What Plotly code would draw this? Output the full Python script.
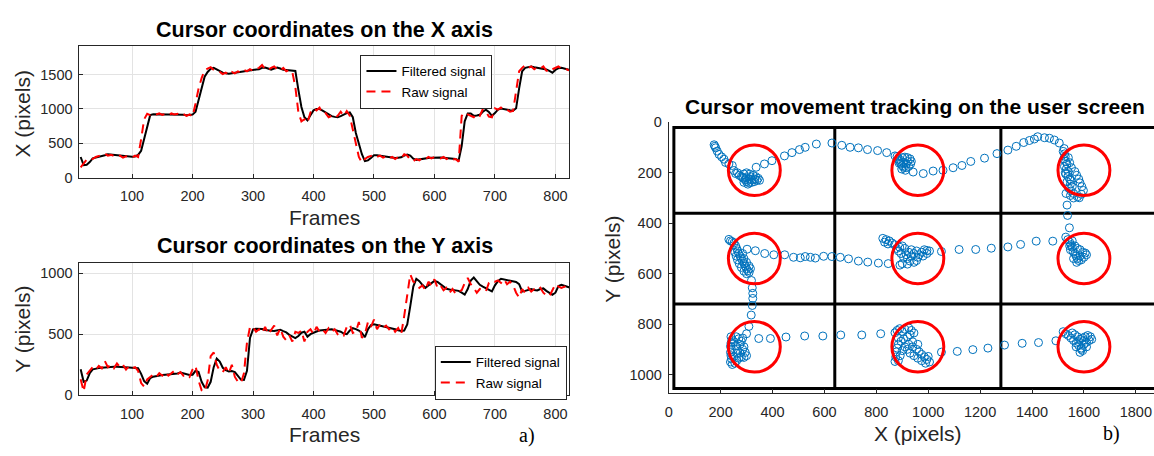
import plotly.graph_objects as go

# ---------------- data: time series (frames every 5) ----------------
frames = list(range(15, 826, 5))

x_filtered = [
    300, 180, 185, 225, 280, 290, 295, 310, 325, 340,
    335, 328, 320, 314, 310, 305, 302, 303, 307, 330,
    390, 575, 760, 910, 922, 922, 920, 922, 925, 922,
    920, 925, 922, 918, 915, 910, 912, 918, 960, 1130,
    1340, 1470, 1540, 1585, 1600, 1575, 1550, 1530, 1520, 1514,
    1520, 1528, 1530, 1540, 1550, 1560, 1568, 1572, 1575, 1580,
    1600, 1605, 1590, 1575, 1590, 1605, 1590, 1572, 1570, 1565,
    1565, 1555, 1280, 1030, 880, 835, 910, 980, 1000, 1000,
    975, 950, 920, 895, 885, 880, 895, 920, 940, 950,
    880, 650, 480, 340, 240, 250, 285, 325, 325, 318,
    312, 305, 300, 292, 285, 290, 295, 320, 335, 320,
    275, 258, 262, 270, 280, 285, 290, 293, 293, 292,
    290, 286, 282, 278, 270, 250, 460, 820, 935, 935,
    900, 905, 915, 960, 990, 955, 900, 940, 990, 1007,
    995, 988, 982, 975, 1010, 1300, 1550, 1600, 1615, 1620,
    1610, 1600, 1600, 1590, 1575, 1555, 1530, 1570, 1595, 1600,
    1590, 1575, 1565,
]

x_raw = [
    150, 200, 260, 280, 270, 300, 310, 330, 350, 320,
    330, 310, 300, 320, 290, 310, 300, 290, 320, 300,
    560, 850, 930, 910, 930, 920, 935, 915, 930, 910,
    935, 920, 930, 905, 925, 900, 920, 890, 1080, 1300,
    1450, 1560, 1590, 1610, 1570, 1560, 1540, 1510, 1530, 1500,
    1540, 1520, 1550, 1530, 1570, 1550, 1580, 1560, 1590, 1600,
    1640, 1580, 1570, 1600, 1620, 1580, 1560, 1600, 1550, 1570,
    1540, 1320, 950, 820, 850, 800, 950, 1010, 980, 1020,
    930, 940, 880, 900, 870, 900, 960, 900, 970, 900,
    700, 480, 300, 220, 270, 300, 310, 330, 300, 320,
    290, 310, 280, 300, 270, 300, 280, 340, 320, 260,
    240, 270, 250, 290, 270, 300, 280, 300, 290, 280,
    300, 270, 290, 260, 270, 230, 900, 950, 920, 900,
    880, 930, 900, 1000, 960, 890, 880, 1010, 990, 1020,
    980, 990, 960, 970, 1250, 1550, 1600, 1640, 1600, 1620,
    1580, 1610, 1590, 1620, 1560, 1540, 1580, 1600, 1620, 1590,
    1600, 1570, 1560,
]

y_filtered = [
    213, 110, 120, 180, 212, 220, 222, 225, 228, 232,
    234, 234, 234, 234, 232, 230, 228, 226, 225, 222,
    175, 115, 95, 140, 152, 158, 162, 166, 168, 170,
    172, 173, 178, 185, 178, 168, 165, 168, 200, 190,
    110, 65, 62, 110, 230, 300, 275, 225, 205, 194,
    198, 190, 160, 128, 125, 200, 470, 540, 545, 545,
    542, 535, 530, 528, 527, 530, 537, 525, 515, 495,
    478, 468, 485, 512, 520, 480, 500, 514, 522, 530,
    532, 536, 540, 541, 535, 528, 520, 505, 500, 530,
    549, 542, 530, 510, 475, 540, 575, 581, 576, 568,
    565, 560, 555, 548, 540, 532, 527, 530, 580, 730,
    890, 954, 935, 905, 880, 900, 920, 937, 928, 910,
    888, 872, 866, 862, 858, 855, 840, 824, 870, 940,
    964, 930, 905, 890, 878, 865, 850, 900, 935, 954,
    950, 946, 940, 935, 928, 910, 850, 855, 865, 870,
    862, 858, 870, 875, 855, 835, 822, 840, 895, 905,
    895, 885, 880,
]

y_raw = [
    130, 30, 170, 200, 230, 210, 240, 220, 280, 230,
    250, 220, 260, 230, 250, 210, 240, 220, 230, 200,
    100, 70, 130, 150, 170, 150, 180, 160, 190, 160,
    180, 200, 170, 190, 160, 170, 150, 210, 240, 120,
    40, 30, 120, 320, 350, 250, 200, 190, 230, 180,
    250, 150, 110, 100, 180, 430, 560, 560, 520, 540,
    510, 560, 500, 540, 570, 490, 550, 480, 450, 490,
    440, 520, 510, 530, 440, 520, 540, 500, 560, 520,
    540, 510, 550, 520, 540, 500, 510, 490, 560, 580,
    510, 520, 600, 470, 500, 600, 560, 620, 540, 580,
    550, 570, 540, 560, 520, 550, 500, 650, 820, 990,
    930, 920, 880, 900, 860, 930, 900, 950, 880, 900,
    860, 880, 840, 870, 830, 850, 860, 920, 960, 910,
    880, 840, 870, 860, 850, 920, 940, 930, 940, 920,
    950, 910, 930, 900, 840, 800, 870, 840, 880, 850,
    870, 860, 880, 840, 820, 810, 860, 910, 890, 880,
    890, 870, 880,
]

frame_ticks = [100, 200, 300, 400, 500, 600, 700, 800]
x_ticks_left = [0, 500, 1000, 1500]
y_ticks_left = [0, 500, 1000]

# ---------------- data: cursor track on screen ----------------
track_x = [
    175, 178, 181, 187, 194, 204, 213, 219, 232, 245, 251, 258,
    265, 272, 280, 288, 295, 300, 310, 320, 330, 340, 345, 335, 325, 312, 300, 290, 285, 298, 310, 320, 332, 305, 290, 315, 350,
    337, 369, 398, 446, 475, 504, 526, 569, 629, 667, 699, 731, 766, 805, 840, 872,
    880, 885, 890, 895, 900, 905, 915, 925, 932, 935, 930, 920, 910, 900, 893, 905, 915, 920, 888, 898, 912,
    942, 981, 1019, 1057, 1096, 1130, 1164, 1217, 1265, 1307, 1339, 1368, 1390, 1409, 1422, 1448, 1467, 1486, 1505, 1524,
    1520, 1525, 1528, 1522, 1530, 1535, 1525, 1532, 1540, 1530, 1538, 1545, 1535, 1548, 1555, 1542, 1550, 1560, 1548, 1540, 1545, 1552, 1565, 1572, 1580, 1585, 1592, 1598, 1590, 1582, 1575, 1560, 1528, 1550,
    1531, 1535, 1537, 1544,
    1530, 1538, 1545, 1550, 1555, 1548, 1558, 1565, 1570, 1575, 1580, 1590, 1600, 1610, 1605, 1595, 1585, 1575, 1565, 1560, 1572, 1585, 1545, 1555,
    1480, 1416, 1356, 1307, 1243, 1183, 1119, 1051,
    1005, 995, 985, 975, 965, 955, 945, 935, 925, 915, 905, 895, 885, 878, 890, 900, 910, 920, 930, 945, 955, 935, 960, 980, 995, 870, 860, 850, 838, 825, 832, 845, 900, 920,
    891, 846, 808, 767, 731, 693, 661, 629, 597, 565, 546, 526, 507, 481, 447, 405, 370, 334, 302,
    232, 238, 245, 252, 258, 262, 266, 270, 275, 280, 285, 290, 295, 300, 305, 310, 300, 290, 280, 272, 265, 260, 255, 290, 300, 310, 315, 285,
    319, 322, 324, 324, 322, 318, 309, 300,
    240, 245, 240, 238, 242, 238, 240, 242, 238, 245, 255, 262, 270, 280, 290, 300, 295, 285, 290, 275, 280, 270, 260, 252, 258, 265, 262, 275, 250, 285,
    347, 392, 452, 524, 594, 663, 744, 817, 872,
    880, 890, 900, 910, 925, 935, 945, 930, 920, 905, 895, 885, 880, 878, 875, 872, 885, 892, 900, 910, 925, 940, 955, 965, 975, 985, 995, 1005, 990, 975, 960, 945, 930, 920, 1000, 960, 940, 885,
    1051, 1112, 1172, 1230, 1294, 1362, 1425, 1492,
    1520, 1530, 1540, 1550, 1560, 1570, 1580, 1590, 1595, 1585, 1600, 1610, 1620, 1630, 1625, 1615, 1605, 1595, 1585, 1575, 1565, 1555, 1600, 1580, 1590, 1610, 1570,
]
track_y = [
    89, 95, 101, 114, 127, 137, 146, 159, 165, 171, 191, 203,
    200, 210, 215, 222, 228, 235, 240, 238, 235, 230, 222, 215, 210, 205, 200, 205, 218, 220, 225, 228, 225, 245, 238, 215, 230,
    178, 165, 152, 133, 120, 108, 99, 86, 82, 91, 99, 101, 108, 112, 120, 133,
    135, 145, 155, 165, 172, 178, 180, 175, 165, 155, 145, 140, 138, 140, 150, 160, 165, 155, 162, 185, 190,
    197, 203, 193, 190, 180, 171, 155, 142, 124, 110, 95, 80, 72, 66, 57, 61, 63, 70, 82, 104,
    115, 125, 135, 145, 155, 165, 175, 185, 195, 205, 215, 225, 235, 245, 255, 262, 272, 282, 290, 140, 160, 180, 195, 210, 225, 240, 255, 270, 285, 299, 295, 300, 200, 230,
    282, 328, 369, 418,
    455, 465, 475, 485, 495, 505, 512, 520, 530, 540, 548, 545, 535, 525, 518, 515, 505, 500, 490, 540, 555, 530, 490, 470,
    471, 471, 484, 494, 499, 504, 504, 512,
    510, 520, 505, 515, 525, 510, 520, 505, 515, 525, 535, 520, 510, 500, 495, 490, 500, 540, 550, 555, 548, 530, 535, 530, 508, 485, 478, 470, 465, 460, 475, 482, 560, 562,
    566, 560, 558, 554, 550, 541, 535, 532, 531, 538, 535, 532, 537, 535, 525, 525, 520, 509, 503,
    464, 470, 473, 478, 490, 500, 510, 520, 530, 540, 550, 560, 570, 580, 588, 595, 600, 590, 575, 560, 545, 530, 515, 540, 555, 570, 580, 520,
    627, 656, 678, 698, 726, 764, 809, 838,
    850, 862, 875, 888, 900, 912, 925, 938, 950, 960, 955, 945, 935, 930, 932, 925, 912, 900, 890, 880, 868, 858, 850, 870, 885, 900, 915, 915, 930, 855,
    857, 857, 851, 847, 847, 843, 843, 838, 834,
    825, 818, 830, 820, 815, 825, 835, 842, 850, 858, 868, 880, 895, 910, 930, 948, 945, 925, 905, 890, 880, 890, 900, 910, 920, 930, 940, 950, 955, 945, 935, 925, 915, 900, 928, 880, 870, 855,
    911, 908, 901, 895, 883, 876, 873, 866,
    830, 838, 845, 855, 865, 875, 885, 895, 905, 912, 880, 872, 865, 860, 850, 845, 850, 855, 860, 850, 842, 835, 865, 870, 900, 890, 890,
]
assert len(track_x) == len(track_y)
assert len(frames) == len(x_filtered) == len(x_raw) == len(y_filtered) == len(y_raw)

# screen layout (targets, grid)
target_x = [330, 960, 1600]
target_y = [190, 540, 890]
target_radius = 100
cell_x_lines = [640, 1280]
cell_y_lines = [360, 720]
screen_box = [20, 1920, 20, 1055]  # x0, x1, y0, y1
screen_x_ticks = [0, 200, 400, 600, 800, 1000, 1200, 1400, 1600, 1800]
screen_y_ticks = [0, 200, 400, 600, 800, 1000]

# ---------------- figure ----------------
W, H = 1154, 456
FONT = "Liberation Sans, Arial, sans-serif"
SERIF = "Liberation Serif, Times New Roman, serif"
TICKC = "#262626"
GRIDC = "#e3e3e3"
BLUE = "#0072BD"
TICKSIZE = 14.5


def px_x(p):
    return p / W


def px_y(p):
    return (H - p) / H


fig = go.Figure()

fig.add_trace(go.Scatter(x=frames, y=x_filtered, mode="lines", name="Filtered signal",
                         line=dict(color="black", width=2), xaxis="x", yaxis="y", legend="legend"))
fig.add_trace(go.Scatter(x=frames, y=x_raw, mode="lines", name="Raw signal",
                         line=dict(color="#ff0000", width=2, dash="9px,6px"), xaxis="x", yaxis="y",
                         legend="legend"))
fig.add_trace(go.Scatter(x=frames, y=y_filtered, mode="lines", name="Filtered signal",
                         line=dict(color="black", width=2), xaxis="x2", yaxis="y2", legend="legend2"))
fig.add_trace(go.Scatter(x=frames, y=y_raw, mode="lines", name="Raw signal",
                         line=dict(color="#ff0000", width=2, dash="9px,6px"), xaxis="x2", yaxis="y2",
                         legend="legend2"))
fig.add_trace(go.Scatter(x=track_x, y=track_y, mode="markers", showlegend=False,
                         marker=dict(symbol="circle-open", size=8, color=BLUE, line=dict(width=1, color=BLUE)),
                         xaxis="x3", yaxis="y3"))

left_dom = [px_x(75.7), px_x(567.3)]
common_left = dict(showline=True, mirror=True, linecolor=TICKC, linewidth=1, ticks="inside", ticklen=4,
                   tickcolor=TICKC, showgrid=True, gridcolor=GRIDC, gridwidth=1, zeroline=False,
                   tickfont=dict(family=FONT, size=TICKSIZE, color=TICKC))

fig.update_layout(
    width=W, height=H, margin=dict(l=0, r=0, t=0, b=0),
    paper_bgcolor="white", plot_bgcolor="white", hovermode=False,
    font=dict(family=FONT, color=TICKC),
    xaxis=dict(domain=left_dom, range=[13, 823], anchor="y", tickvals=frame_ticks,
               ticklabelstandoff=5, **common_left),
    yaxis=dict(domain=[px_y(175.7), px_y(39.3)], range=[0, 1920], anchor="x", tickvals=x_ticks_left,
               ticklabelstandoff=3, **common_left),
    xaxis2=dict(domain=left_dom, range=[13, 823], anchor="y2", tickvals=frame_ticks,
                ticklabelstandoff=5, **common_left),
    yaxis2=dict(domain=[px_y(401.3), px_y(264.7)], range=[0, 1080], anchor="x2", tickvals=y_ticks_left,
                ticklabelstandoff=3, **common_left),
    xaxis3=dict(domain=[px_x(667), 1.0], range=[0, 1870], anchor="y3", tickvals=screen_x_ticks,
                showline=True, mirror=False, linecolor=TICKC, linewidth=1, ticks="inside", ticklen=4,
                tickcolor=TICKC, showgrid=False, zeroline=False, ticklabelstandoff=6,
                tickfont=dict(family=FONT, size=TICKSIZE, color=TICKC)),
    yaxis3=dict(domain=[px_y(399), px_y(118.5)], range=[1073, 0], anchor="x3", tickvals=screen_y_ticks,
                showline=True, mirror=False, linecolor=TICKC, linewidth=1, ticks="inside", ticklen=4,
                tickcolor=TICKC, showgrid=False, zeroline=False, ticklabelstandoff=3,
                tickfont=dict(family=FONT, size=TICKSIZE, color=TICKC)),
    legend=dict(x=px_x(357.7), y=px_y(48.3), xanchor="left", yanchor="top", bgcolor="white",
                bordercolor=TICKC, borderwidth=1, font=dict(family=FONT, size=13.5, color="black"),
                tracegroupgap=0),
    legend2=dict(x=px_x(432.3), y=px_y(350), xanchor="left", yanchor="top", bgcolor="white",
                 bordercolor=TICKC, borderwidth=1, font=dict(family=FONT, size=13.5, color="black"),
                 tracegroupgap=0),
)

shapes = []
shapes.append(dict(type="rect", xref="x3", yref="y3", x0=screen_box[0], x1=screen_box[1],
                   y0=screen_box[2], y1=screen_box[3], line=dict(color="black", width=3), layer="below"))
for gx in cell_x_lines:
    shapes.append(dict(type="line", xref="x3", yref="y3", x0=gx, x1=gx, y0=screen_box[2], y1=screen_box[3],
                       line=dict(color="black", width=3), layer="below"))
for gy in cell_y_lines:
    shapes.append(dict(type="line", xref="x3", yref="y3", x0=screen_box[0], x1=screen_box[1], y0=gy, y1=gy,
                       line=dict(color="black", width=3), layer="below"))
for cy in target_y:
    for cx in target_x:
        shapes.append(dict(type="circle", xref="x3", yref="y3", x0=cx - target_radius, x1=cx + target_radius,
                           y0=cy - target_radius, y1=cy + target_radius,
                           line=dict(color="#ff0000", width=3), layer="above"))
fig.update_layout(shapes=shapes)


def ann(text, x, y, size, bold=False, angle=0, family=FONT, color="black"):
    return dict(text=f"<b>{text}</b>" if bold else text, x=px_x(x), y=px_y(y), xref="paper", yref="paper",
                xanchor="center", yanchor="middle", showarrow=False, textangle=angle,
                font=dict(family=family, size=size, color=color))


annotations = [
    ann("Cursor coordinates on the X axis", 322, 23, 21.5, bold=True),
    ann("Cursor coordinates on the Y axis", 322, 247, 21.5, bold=True),
    ann("Cursor movement tracking on the user screen", 914, 102, 21, bold=True),
    ann("Frames", 322, 217, 21, color=TICKC),
    ann("Frames", 322, 442, 21, color=TICKC),
    ann("X (pixels)", 18.5, 109, 21, angle=-90, color=TICKC),
    ann("Y (pixels)", 18.5, 333, 21, angle=-90, color=TICKC),
    ann("Y (pixels)", 611, 260, 21, angle=-90, color=TICKC),
    ann("X (pixels)", 917, 441, 21, color=TICKC),
    ann("a)", 525, 443, 20, family=SERIF),
    ann("b)", 1111, 441, 20, family=SERIF),
]
fig.update_layout(annotations=annotations)

fig.write_html(
    "out.html",
    config={"displayModeBar": False, "staticPlot": True},
    post_script="document.body.style.margin='0';document.body.style.padding='0';"
                "document.body.style.overflow='hidden';",
)
